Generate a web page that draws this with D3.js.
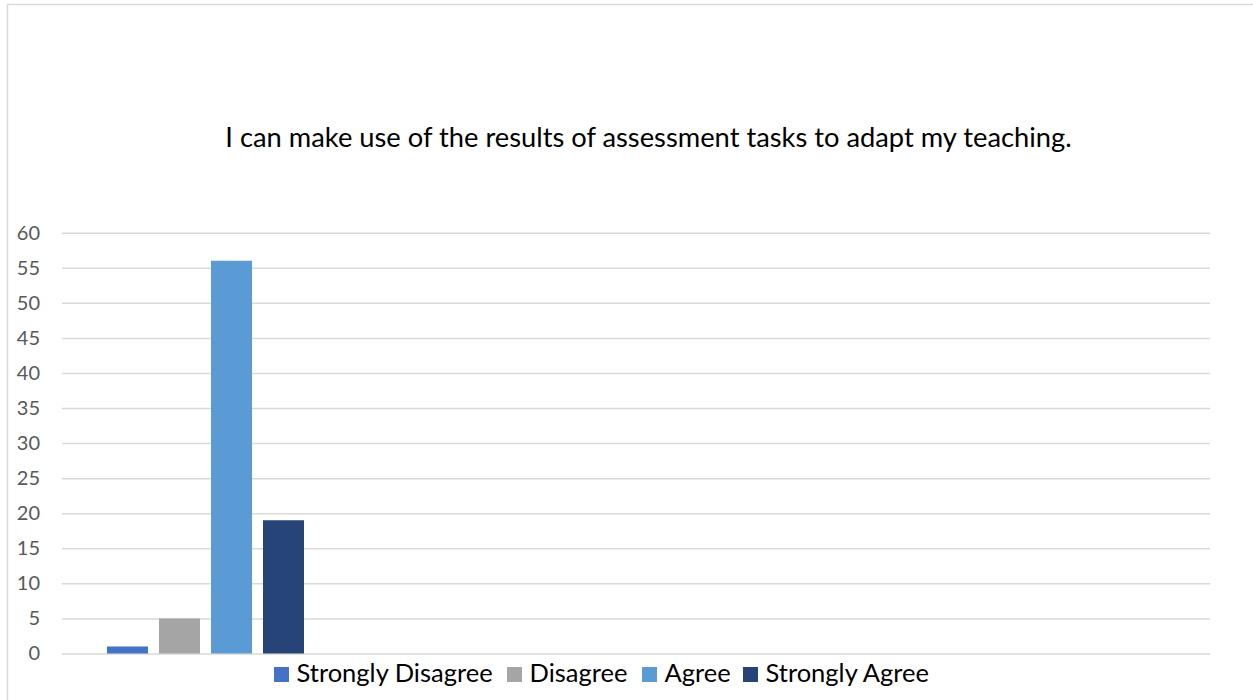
<!DOCTYPE html>
<html>
<head>
<meta charset="utf-8">
<script src="https://cdn.jsdelivr.net/npm/d3@7"></script>
<style>
  html, body { margin: 0; padding: 0; background: #fff; }
  svg { display: block; }
</style>
</head>
<body>
<svg id="chart" width="1253" height="700"></svg>
<script>
// Survey responses for the single statement
const title = "I can make use of the results of assessment tasks to adapt my teaching.";
const seriesNames = ["Strongly Disagree", "Disagree", "Agree", "Strongly Agree"];
const seriesValues = [1, 5, 56, 19];
const seriesColors = ["#4472c4", "#a5a5a5", "#5b9bd5", "#264478"];
const yTicks = [0, 5, 10, 15, 20, 25, 30, 35, 40, 45, 50, 55, 60];

const svg = d3.select("#chart");
const font = "Lato, 'Open Sans', sans-serif";

// Outer chart frame
svg.append("rect")
  .attr("x", 7.5).attr("y", 4.5)
  .attr("width", 1252).attr("height", 700)
  .attr("fill", "none").attr("stroke", "#d9d9d9").attr("stroke-width", 1.5);

const plot = { left: 62, right: 1210, top: 232.7, bottom: 653.5 };

const y = d3.scaleLinear().domain([0, 60]).range([plot.bottom, plot.top]);
const x = d3.scaleBand().domain(seriesNames).range([107, 304]).paddingInner(11 / 52).paddingOuter(0);

// Title
svg.append("text")
  .attr("x", 648.5).attr("y", 147)
  .attr("text-anchor", "middle")
  .attr("font-family", font).attr("font-size", 27.3)
  .attr("fill", "#000")
  .text(title);

// Horizontal gridlines and value axis labels
const yAxis = d3.axisLeft(y).tickValues(yTicks)
  .tickSize(-(plot.right - plot.left)).tickPadding(22);
const gAxis = svg.append("g").attr("transform", `translate(${plot.left},0)`).call(yAxis);
gAxis.select(".domain").remove();
gAxis.selectAll(".tick line").attr("stroke", "#d9d9d9").attr("stroke-width", 1.5);
gAxis.selectAll(".tick text")
  .attr("font-family", font).attr("font-size", 20).attr("fill", "#595959");

// Bars
svg.append("g").selectAll("rect")
  .data(seriesNames.map((n, i) => ({ name: n, value: seriesValues[i], color: seriesColors[i] })))
  .join("rect")
  .attr("x", d => x(d.name))
  .attr("width", x.bandwidth())
  .attr("y", d => y(d.value))
  .attr("height", d => y(0) - y(d.value))
  .attr("fill", d => d.color);

// Legend
const legendX = [274, 507, 642, 743];
const legend = svg.append("g");
seriesNames.forEach((n, i) => {
  const g = legend.append("g").attr("transform", `translate(${legendX[i]},667)`);
  g.append("rect").attr("x", 0).attr("y", 0).attr("width", 15).attr("height", 15).attr("fill", seriesColors[i]);
  g.append("text").attr("x", 22.5).attr("y", 15)
    .attr("font-family", font).attr("font-size", 25.5).attr("fill", "#000")
    .text(n);
});
</script>
</body>
</html>
